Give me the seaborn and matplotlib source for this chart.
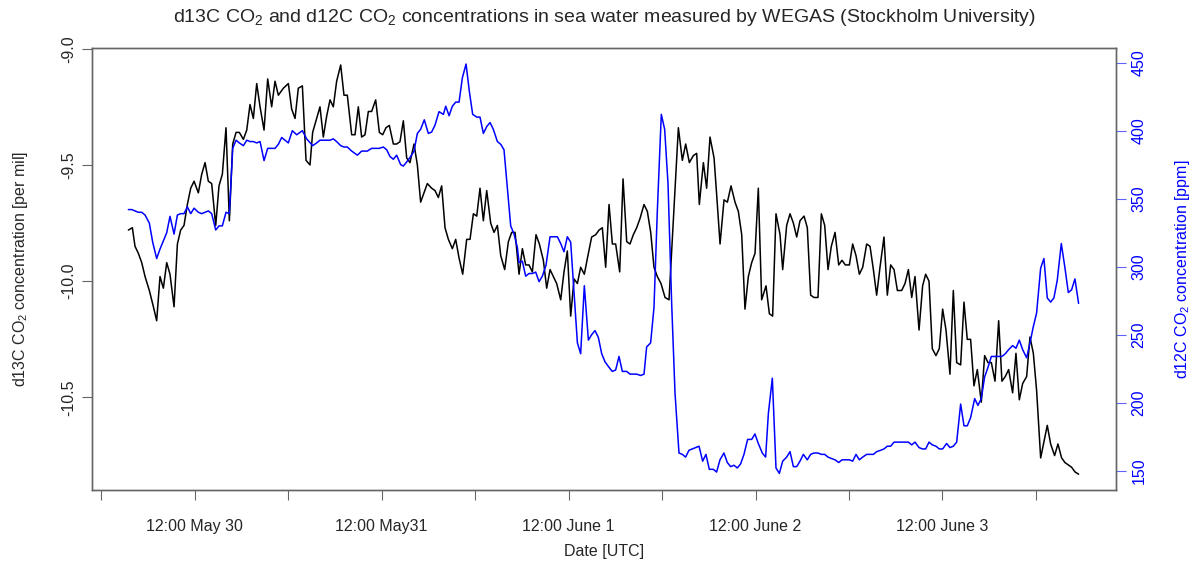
import pandas as pd
import numpy as np
import matplotlib
matplotlib.use("Agg")
import matplotlib.pyplot as plt
import seaborn as sns

# Datos: horas desde 30 May 00:00 UTC
d13c_hours = [
    3.51, 4.02, 4.36, 4.79, 5.22, 5.65, 6.20, 6.72, 7.14, 7.57,
    8.00, 8.43, 8.85, 9.37, 9.80, 10.22, 10.65, 11.08, 11.51, 11.94,
    12.49, 12.92, 13.35, 13.77, 14.20, 14.72, 15.14, 15.57, 16.04, 16.47,
    16.90, 17.33, 17.75, 18.27, 18.70, 19.12, 19.55, 19.98, 20.41, 20.92,
    21.39, 21.90, 22.33, 22.76, 23.40,
    24.04, 24.47, 24.90, 25.32, 25.84, 26.31, 26.82, 27.16, 27.68, 28.10,
    28.53, 28.96, 29.39, 29.81, 30.24, 30.76, 31.18, 31.61, 32.17, 32.60,
    33.02, 33.45, 33.88, 34.31, 34.73, 35.25, 35.72, 36.15, 36.57, 37.00,
    37.52, 37.94, 38.37, 38.80, 39.23, 39.65, 40.17, 40.60, 41.02, 41.45,
    41.88, 42.43, 42.86, 43.29,
    43.72, 44.15, 44.58, 45.09, 45.52, 45.95, 46.42, 46.93, 47.36, 47.79,
    48.22, 48.64, 49.07, 49.50, 50.01, 50.44, 50.87, 51.30, 51.81, 52.28,
    52.71, 53.14, 53.65, 54.08, 54.50, 54.93, 55.36, 55.83, 56.26, 56.77,
    57.20, 57.63, 58.06, 58.48, 59.00, 59.42, 59.85, 60.28, 60.71, 61.14,
    61.56, 62.03, 62.55, 62.97, 63.49, 63.92, 64.34, 64.77, 65.20, 65.63,
    66.05, 66.57, 67.00, 67.47, 67.89, 68.32, 68.75, 69.18, 69.69, 70.12,
    70.55, 70.97, 71.40, 71.87, 72.39, 72.90, 74.10, 74.61, 75.04, 75.51,
    76.02, 76.45, 76.79, 77.31, 77.73, 78.16, 78.68, 79.02, 79.45, 79.96,
    80.39, 80.86, 81.37, 81.80, 82.23, 82.65, 83.08, 83.51, 83.94, 84.36,
    84.79, 85.35, 85.78, 86.20, 86.63, 87.15,
    87.49, 88.00, 88.43, 88.86, 89.29, 89.71, 90.23, 90.65, 91.08, 91.51,
    92.02, 92.45, 92.88, 93.31, 93.73, 94.21, 94.68, 95.10, 95.53, 96.05,
    96.47, 96.90, 97.33, 97.76, 98.27, 98.70, 99.13, 99.55, 99.98, 100.49,
    100.92, 101.35, 101.78, 102.21, 102.76, 103.19, 103.62, 104.05, 104.47, 104.99,
    105.45, 105.84, 106.27, 106.69, 107.16, 107.59, 108.02, 108.45, 108.96, 109.39,
    109.82, 110.33, 110.76, 111.18, 111.61, 112.04, 112.47, 112.98, 113.41, 113.84,
    114.27, 114.74, 115.21, 115.63, 116.06, 116.49, 117.00, 117.43, 117.86, 118.29,
    118.80, 119.23, 119.66, 120.08, 120.60, 121.02, 121.45, 121.88, 122.39, 122.82,
    123.29, 123.72, 124.15, 124.57, 125.00, 125.47,
]
d13c_values = [
    -9.78, -9.77, -9.85, -9.88, -9.92, -9.98, -10.04, -10.11, -10.17, -9.98,
    -10.03, -9.92, -9.97, -10.11, -9.84, -9.78, -9.76, -9.67, -9.60, -9.57,
    -9.62, -9.54, -9.49, -9.57, -9.58, -9.76, -9.59, -9.54, -9.34, -9.74,
    -9.41, -9.36, -9.36, -9.39, -9.35, -9.24, -9.30, -9.15, -9.25, -9.35,
    -9.13, -9.25, -9.14, -9.20, -9.17,
    -9.15, -9.26, -9.30, -9.17, -9.16, -9.48, -9.50, -9.36, -9.30, -9.25,
    -9.38, -9.29, -9.22, -9.25, -9.14, -9.07, -9.20, -9.20, -9.37, -9.37,
    -9.25, -9.38, -9.37, -9.27, -9.27, -9.22, -9.36, -9.37, -9.34, -9.33,
    -9.41, -9.41, -9.40, -9.31, -9.47, -9.49, -9.41, -9.50, -9.66, -9.62,
    -9.58, -9.60, -9.61, -9.64,
    -9.59, -9.77, -9.82, -9.86, -9.82, -9.90, -9.97, -9.82, -9.82, -9.71,
    -9.72, -9.60, -9.74, -9.61, -9.75, -9.79, -9.76, -9.89, -9.95, -9.83,
    -9.79, -9.79, -9.97, -9.86, -9.93, -9.93, -9.96, -9.80, -9.84, -9.91,
    -10.03, -9.95, -9.98, -10.01, -10.08, -9.96, -9.87, -10.15, -9.99, -10.01,
    -9.94, -9.97, -9.88, -9.81, -9.80, -9.78, -9.77, -9.94, -9.67, -9.84,
    -9.84, -9.96, -9.56, -9.83, -9.84, -9.80, -9.77, -9.73, -9.67, -9.70,
    -9.79, -9.94, -9.98, -10.01, -10.07, -10.08, -9.34, -9.48, -9.41, -9.49,
    -9.46, -9.45, -9.67, -9.49, -9.60, -9.38, -9.47, -9.63, -9.84, -9.65,
    -9.66, -9.59, -9.66, -9.70, -9.80, -10.12, -9.98, -9.92, -9.88, -9.60,
    -10.08, -10.02, -10.14, -10.15, -9.71, -9.80,
    -9.95, -9.76, -9.71, -9.75, -9.81, -9.74, -9.72, -9.77, -10.06, -10.07,
    -10.07, -9.71, -9.76, -9.95, -9.85, -9.79, -9.93, -9.91, -9.93, -9.93,
    -9.84, -9.89, -9.97, -9.94, -9.84, -9.85, -9.95, -10.06, -9.94, -9.81,
    -10.06, -9.93, -9.95, -10.04, -10.04, -10.01, -9.95, -10.07, -9.98, -10.21,
    -10.02, -9.97, -10.00, -10.29, -10.32, -10.29, -10.12, -10.21, -10.40, -10.04,
    -10.35, -10.36, -10.09, -10.25, -10.25, -10.45, -10.38, -10.52, -10.32, -10.35,
    -10.35, -10.43, -10.17, -10.43, -10.41, -10.38, -10.48, -10.31, -10.51, -10.44,
    -10.41, -10.24, -10.31, -10.47, -10.76, -10.69, -10.62, -10.70, -10.75, -10.70,
    -10.76, -10.78, -10.79, -10.80, -10.82, -10.83,
]

d12c_hours = [
    3.51, 3.94, 4.36, 4.79, 5.22, 5.65, 6.20, 6.63, 7.14, 7.57,
    8.00, 8.43, 8.85, 9.37, 9.80, 10.22, 10.65, 11.08, 11.51, 11.94,
    12.49, 12.92, 13.35, 13.77, 14.20, 14.72, 15.14, 15.57, 16.04, 16.47,
    16.90, 17.33, 17.75, 18.27, 18.70, 19.12, 19.55, 19.98, 20.41, 20.92,
    21.39, 21.90, 22.33, 22.76, 23.19,
    23.40, 24.04, 24.55, 25.11, 25.84, 26.39, 27.16, 27.68, 28.10, 28.75,
    29.39, 29.81, 30.24, 30.76, 31.18, 31.61, 32.17, 32.90, 33.45, 34.18,
    34.73, 35.16, 35.72, 36.23, 36.66, 37.09, 37.52, 37.94, 38.46, 38.80,
    39.23, 39.74, 40.17, 40.60, 41.02, 41.49, 42.01, 42.43, 42.86, 43.38,
    43.94, 44.24, 44.67, 45.09, 45.52, 45.95, 46.38, 46.85, 47.27, 47.70,
    48.22, 48.64, 49.07, 49.50, 49.93, 50.35, 50.87, 51.30, 51.72, 52.58,
    53.01, 53.44, 53.65, 54.08, 54.50, 54.93, 55.36, 55.79, 56.22, 56.64,
    57.11, 57.63, 58.27, 58.57, 59.00, 59.42, 59.85, 60.28, 61.14, 61.56,
    62.03, 62.55, 62.97, 63.40, 63.83, 64.26, 64.69, 65.20,
    65.62, 66.05, 66.48, 66.91, 67.46, 67.89, 68.32, 68.75, 69.26, 69.69,
    70.03, 70.54, 70.97, 71.40, 71.91, 72.34, 72.77, 73.24, 73.67, 74.18,
    74.61, 75.03, 75.46, 75.89, 76.32, 76.75, 77.22, 77.64, 78.07, 78.59,
    79.01, 79.44, 79.95, 80.38, 80.81, 81.24, 81.67, 82.09, 82.52, 82.99,
    83.51, 83.93, 84.36, 84.87, 85.30,
    85.65, 86.16, 86.63, 87.06, 87.49, 88.00, 88.43, 88.86, 89.29, 89.71,
    90.14, 90.65, 91.08, 91.51, 92.02, 92.45, 92.88, 93.31, 93.73, 94.21,
    94.68, 95.10, 95.53, 96.05, 96.47, 96.90, 97.33, 97.76, 98.27, 98.70,
    99.13, 99.55, 100.07, 100.49, 100.92, 101.35, 101.78, 102.21, 102.76, 103.19,
    103.62, 104.05, 104.47, 104.99, 105.41, 105.84,
    106.27, 106.69, 107.16, 107.59, 108.02, 108.53, 108.96, 109.39, 109.82, 110.33,
    110.76, 111.18, 111.61, 112.13, 112.55, 112.98, 113.41, 113.84, 114.27, 114.74,
    115.21, 115.63, 116.06, 116.49, 117.00, 117.43, 117.86, 118.29, 118.80, 119.23,
    119.66, 120.08, 120.60, 121.02, 121.45, 121.88, 122.30, 122.73, 123.25, 123.72,
    124.15, 124.57, 125.00, 125.47,
]
d12c_values = [
    342, 342, 341, 340, 340, 338, 332, 318, 306, 313,
    319, 325, 337, 324, 338, 339, 339, 344, 339, 343,
    340, 339, 340, 341, 339, 327, 330, 330, 340, 339,
    387, 393, 391, 389, 393, 392, 392, 391, 392, 378,
    387, 387, 387, 390, 395,
    394, 391, 400, 397, 400, 394, 389, 391, 393, 393,
    393, 394, 392, 389, 388, 388, 385, 382, 385, 385,
    387, 387, 387, 388, 386, 381, 379, 382, 375, 374,
    377, 381, 385, 398, 401, 408, 398, 399, 404, 414,
    412, 418, 411, 418, 421, 421, 439, 449, 429, 412,
    410, 410, 398, 403, 406, 401, 392, 390, 386, 330,
    324, 314, 303, 304, 293, 295, 295, 296, 289, 293,
    301, 322, 322, 322, 317, 311, 322, 318, 244, 236,
    286, 246, 250, 253, 248, 236, 230, 226,
    223, 224, 234, 223, 223, 221, 221, 221, 220, 221,
    241, 244, 270, 341, 412, 401, 361, 273, 207, 163,
    162, 160, 165, 166, 167, 168, 157, 162, 151, 151,
    149, 158, 163, 156, 153, 154, 152, 155, 162, 173,
    173, 177, 170, 163, 160,
    192, 218, 152, 148, 157, 160, 164, 153, 153, 157,
    162, 158, 162, 163, 163, 162, 162, 160, 159, 158,
    156, 158, 158, 158, 157, 162, 158, 160, 162, 162,
    162, 164, 165, 166, 168, 168, 171, 171, 171, 171,
    171, 169, 171, 167, 166, 166,
    171, 169, 168, 166, 166, 170, 167, 168, 171, 199,
    183, 183, 189, 203, 198, 203, 219, 226, 234, 234,
    234, 234, 236, 239, 242, 240, 246, 239, 233, 244,
    256, 266, 299, 306, 277, 274, 277, 290, 317, 299,
    281, 283, 291, 273,
]

tick_hours = [0, 12, 24, 36, 48, 60, 72, 84, 96, 108, 120]
tick_labels = ["", "12:00 May 30", "", "12:00 May31", "", "12:00 June 1",
               "", "12:00 June 2", "", "12:00 June 3", ""]
left_ticks = [-9.0, -9.5, -10.0, -10.5]
right_ticks = [150, 200, 250, 300, 350, 400, 450]

assert len(d13c_hours) == len(d13c_values)
assert len(d12c_hours) == len(d12c_values)

sns.set_style("white")
plt.rcParams['font.family'] = ['Liberation Sans', 'DejaVu Sans']
plt.rcParams['mathtext.fontset'] = 'custom'
plt.rcParams['mathtext.rm'] = 'Liberation Sans'

base = pd.Timestamp("2016-05-30 00:00")
df13 = pd.DataFrame({"fecha": base + pd.to_timedelta(d13c_hours, unit="h"),
                     "d13C": d13c_values})
df12 = pd.DataFrame({"fecha": base + pd.to_timedelta(d12c_hours, unit="h"),
                     "d12C": d12c_values})

fig = plt.figure(figsize=(11.97, 5.70), dpi=100)
ax = fig.add_axes([92 / 1197, 1 - 490 / 570, 1024 / 1197, 442 / 570])

sns.lineplot(data=df13, x="fecha", y="d13C", ax=ax, color="black",
             linewidth=1.1, sort=False, estimator=None)
ax2 = ax.twinx()
sns.lineplot(data=df12, x="fecha", y="d12C", ax=ax2, color="blue",
             linewidth=1.1, sort=False, estimator=None)

ax.set_xlim(base + pd.Timedelta(hours=-1.16), base + pd.Timedelta(hours=130.27))
ax.set_ylim(-10.898, -8.997)
ax2.set_ylim(135.8, 460.8)

gris = '#666666'
for a in (ax, ax2):
    for s in a.spines.values():
        s.set_color(gris)
        s.set_linewidth(1.0)

ax.set_xticks([base + pd.Timedelta(hours=h) for h in tick_hours])
ax.set_xticklabels(tick_labels)
ax.tick_params(axis='x', bottom=True, length=7, width=0.8, color=gris,
               pad=14, labelsize=11.5)

ax.set_yticks(left_ticks)
ax.set_yticklabels([f"{v:.1f}" for v in left_ticks])
ax.tick_params(axis='y', left=True, length=7, width=0.8, color=gris,
               pad=4, labelsize=11.5)
for lab in ax.get_yticklabels():
    lab.set_rotation(90)
    lab.set_va('center')

ax2.set_yticks(right_ticks)
ax2.set_yticklabels([str(v) for v in right_ticks])
ax2.tick_params(axis='y', right=True, length=7, width=0.8, color='#6060ff',
                labelcolor='blue', pad=4, labelsize=11.5)
for lab in ax2.get_yticklabels():
    lab.set_rotation(90)
    lab.set_va('center')

ax.set_xlabel("Date [UTC]", fontsize=11.5)
ax.xaxis.set_label_coords(0.5, -0.14)
ax.xaxis.label.set_va('center')
ax.set_ylabel(r"d13C CO$_\mathregular{2}$ concentration [per mil]", fontsize=11.5)
ax.yaxis.set_label_coords(-0.070, 0.5)
ax.yaxis.label.set_va('center')
ax2.set_ylabel(r"d12C CO$_\mathregular{2}$ concentration [ppm]", fontsize=11.5,
               color='blue', rotation=90)
ax2.yaxis.set_label_coords(1.065, 0.5)
ax2.yaxis.label.set_va('center')

fig.suptitle(r"d13C CO$_\mathregular{2}$ and d12C CO$_\mathregular{2}$ concentrations "
             "in sea water measured by WEGAS (Stockholm University)",
             x=604 / 1197, y=1 - 18 / 570, va='center', fontsize=14)

fig.savefig("out.png", dpi=100)
